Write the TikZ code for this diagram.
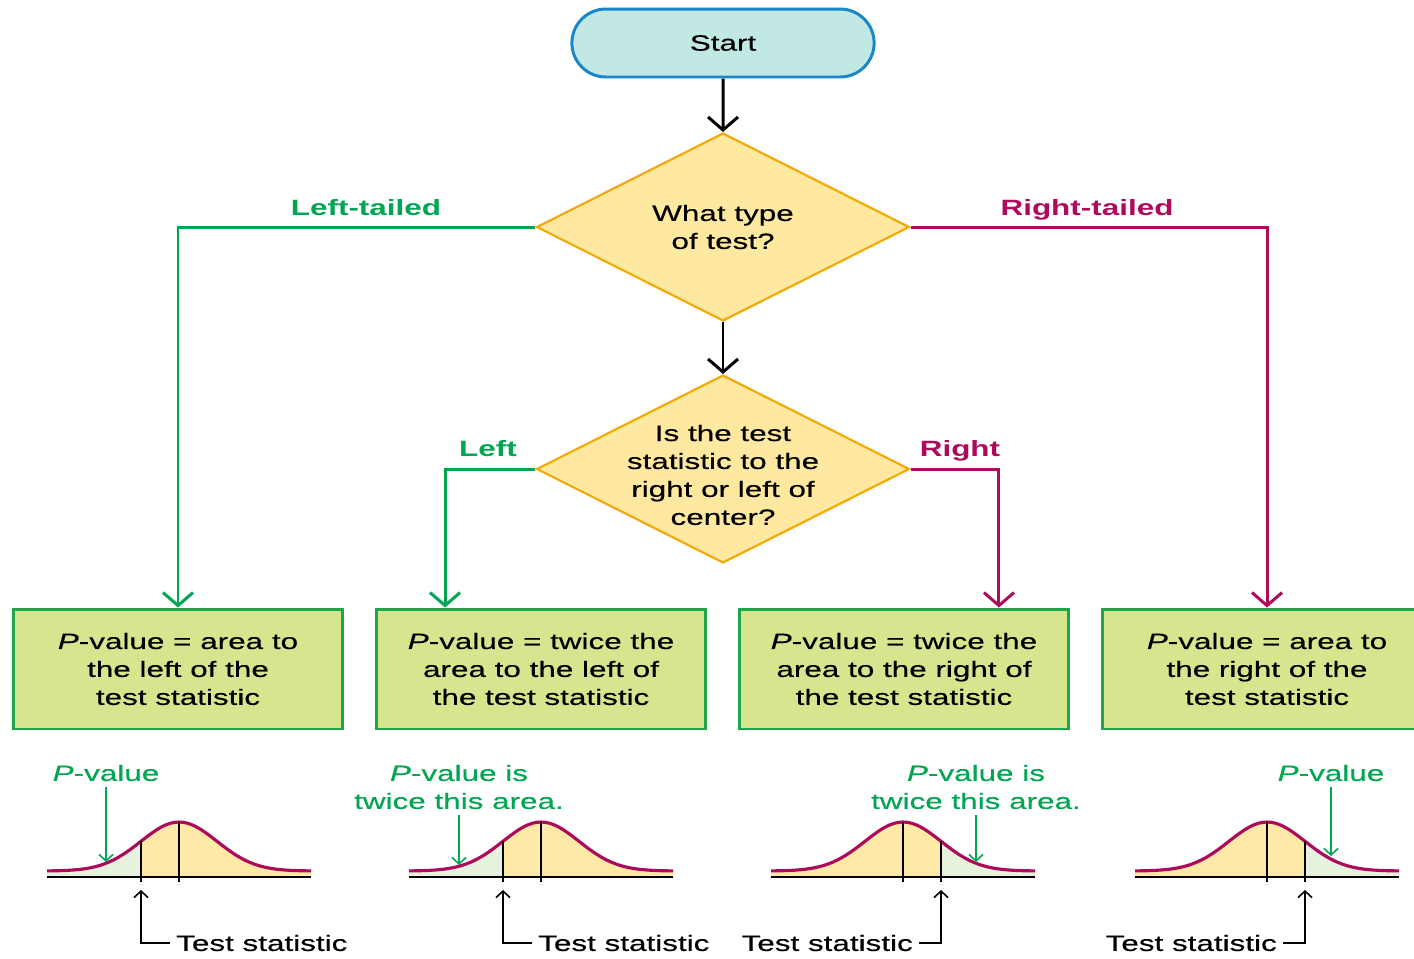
\documentclass[tikz,border=0pt]{standalone}
\usepackage{fontspec}
\setmainfont{Liberation Sans}[FakeStretch=1.42,
  UprightFeatures={FakeBold=0.35}, ItalicFeatures={FakeBold=0.35}]
\usepackage{tikz}
\usetikzlibrary{arrows.meta,positioning,calc,shapes.geometric,shapes.misc}
\definecolor{flowGreen}{HTML}{00A651}
\definecolor{flowRed}{HTML}{AE0A5C}
\definecolor{startBlue}{HTML}{1A87C9}
\definecolor{startFill}{HTML}{C2E8E4}
\definecolor{diaOrange}{HTML}{F5A800}
\definecolor{diaFill}{HTML}{FFE8A0}
\definecolor{boxGreen}{HTML}{1FA54A}
\definecolor{boxFill}{HTML}{D6E68E}
\definecolor{areaYellow}{HTML}{FFE9A6}
\definecolor{areaGreen}{HTML}{E6F2DE}

\begin{document}
\begin{tikzpicture}[
  x=0.02cm, y=-0.02cm,
  font=\fontsize{12.6}{15.9}\selectfont, >={Straight Barb[length=2.6mm,width=6mm]},
  start/.style={draw=startBlue, fill=startFill, line width=1.7pt, rounded rectangle,
    minimum width=6.28cm, minimum height=1.36cm},
  dia/.style={draw=diaOrange, fill=diaFill, line width=1.2pt, diamond, inner sep=0pt,
    minimum width=7.46cm, minimum height=3.76cm},
  res/.style={draw=boxGreen, fill=boxFill, line width=1.7pt, align=center,
    minimum width=6.58cm, minimum height=2.4cm},
  flow/.style={line width=1.7pt},
  lbl/.style={font=\fontsize{12.6}{15.9}\selectfont\bfseries, anchor=base},
  pv/.style={text=flowGreen, align=center},
  pvarr/.style={draw=flowGreen, line width=0.9pt, -{Straight Barb[length=1.3mm,width=2.8mm]}},
  tsarr/.style={line width=0.9pt, -{Straight Barb[length=1.3mm,width=2.8mm]}},
  curve/.style={draw=flowRed, line width=1.8pt},
  tick/.style={line width=1.1pt}
]
\path[use as bounding box, fill=white] (0,0) rectangle (1414,958);

% Flowchart
\node[start] (start) at (723,43) {Start};
\node[dia] (q1) at (723,227) {};
\node[align=center] (q1t) at (q1) {What type\\of test?};
\node[dia] (q2) at (723,469) {};
\node[align=center] (q2t) at ($(q2)+(0,6)$) {Is the test\\statistic to the\\right or left of\\center?};

\node[res] (b1) at (178,669) {\textit{P}-value = area to\\the left of the\\test statistic};
\node[res] (b2) at (541,669) {\textit{P}-value = twice the\\area to the left of\\the test statistic};
\node[res] (b3) at (904,669) {\textit{P}-value = twice the\\area to the right of\\the test statistic};
\node[res] (b4) at (1267,669) {\textit{P}-value = area to\\the right of the\\test statistic};

\draw[flow, ->] (start) -- (q1);
\draw[flow, ->] (q1) -- (q2);
\draw[flow, flowGreen, ->] (q1.west) -| (b1.north);
\draw[flow, flowRed, ->] (q1.east) -| (b4.north);
\draw[flow, flowGreen, ->] (q2.west) -| ($(b2.north west)+(70,0)$);
\draw[flow, flowRed, ->] (q2.east) -| ($(b3.north east)+(-71,0)$);

\node[lbl, text=flowGreen] (lt) at (366,215) {Left-tailed};
\node[lbl, text=flowRed] (rt) at (1087,215) {Right-tailed};
\node[lbl, text=flowGreen] (lf) at (488,456) {Left};
\node[lbl, text=flowRed] (rg) at (960,456) {Right};

% Curves
\foreach \c/\t/\ga/\gb [count=\n, evaluate=\c as \lo using \c-132,
    evaluate=\c as \hi using \c+132] in
    {179/141/47/141, 541/503/409/503, 903/941/941/1035, 1267/1305/1305/1399} {
  \fill[areaYellow] plot[domain=\lo:\hi, samples=61]
    (\x,{871-49*exp(-((\x-\c)/38)*((\x-\c)/38)/2)}) -- (\hi,877) -- (\lo,877) -- cycle;
  \fill[areaGreen] plot[domain=\ga:\gb, samples=31]
    (\x,{871-49*exp(-((\x-\c)/38)*((\x-\c)/38)/2)}) -- (\gb,877) -- (\ga,877) -- cycle;
  \draw[curve] plot[domain=\lo:\hi, samples=61]
    (\x,{871-49*exp(-((\x-\c)/38)*((\x-\c)/38)/2)});
  \draw[tick] (\lo,877) -- (\hi,877);
  \draw[tick] (\c,822) -- (\c,882);
  \draw[tick] (\t,{871-49*exp(-0.5)}) -- (\t,882);
  \coordinate (tsp\n) at (\t,890);
}

% P-value labels
\node[pv] (pv1) at (106,773) {\textit{P}-value};
\coordinate (pa1) at (106,862);
\draw[pvarr] (pv1.south) -- (pa1);
\node[pv] (pv2) at (459,787) {\textit{P}-value is\\twice this area.};
\coordinate (pa2) at (459,865);
\draw[pvarr] (pv2.south) -- (pa2);
\node[pv] (pv3) at (976,787) {\textit{P}-value is\\twice this area.};
\coordinate (pa3) at (976,862);
\draw[pvarr] (pv3.south) -- (pa3);
\node[pv] (pv4) at (1331,773) {\textit{P}-value};
\coordinate (pa4) at (1331,856);
\draw[pvarr] (pv4.south) -- (pa4);

% Test statistic labels
\node[anchor=west] (ts1) at (170,943) {Test statistic};
\draw[tsarr] (ts1.west) -| (tsp1);
\node[anchor=west] (ts2) at (532,943) {Test statistic};
\draw[tsarr] (ts2.west) -| (tsp2);
\node[anchor=east] (ts3) at (919,943) {Test statistic};
\draw[tsarr] (ts3.east) -| (tsp3);
\node[anchor=east] (ts4) at (1283,943) {Test statistic};
\draw[tsarr] (ts4.east) -| (tsp4);
\end{tikzpicture}
\end{document}
